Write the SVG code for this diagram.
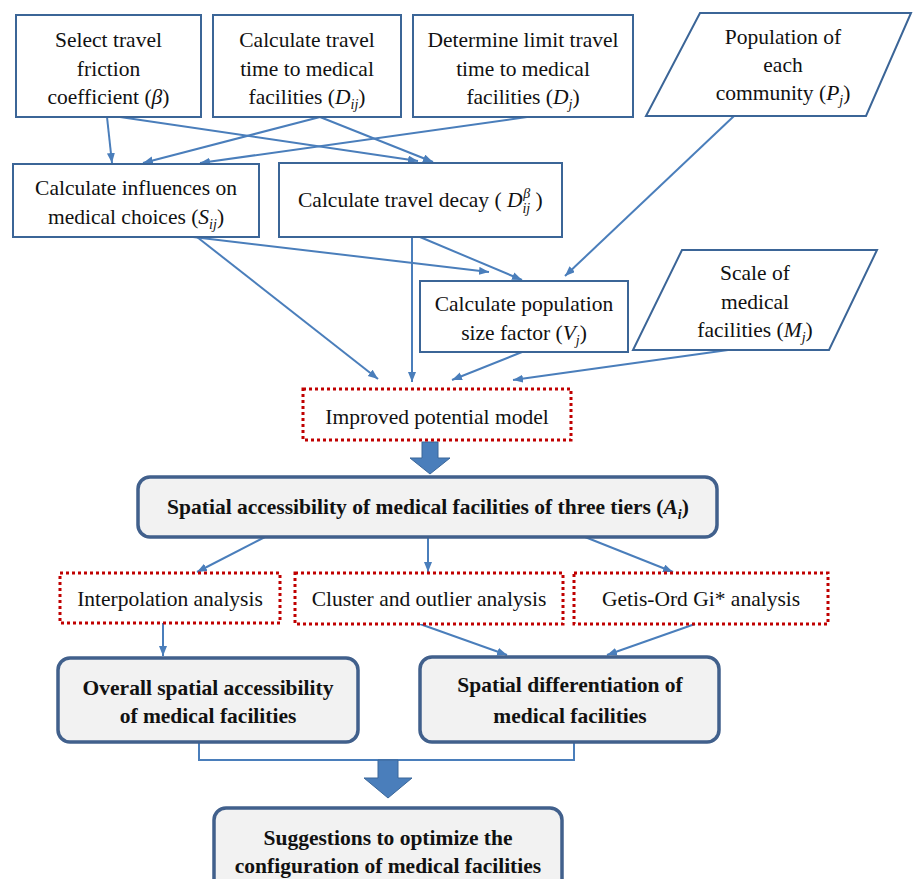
<svg xmlns="http://www.w3.org/2000/svg" width="913" height="879" viewBox="0 0 913 879">
<defs>
<style>
.box{fill:#fff;stroke:#3b6597;stroke-width:2}
.rbox{fill:#f2f2f2;stroke:#41608c;stroke-width:3.5}
.dbox{fill:#fff;stroke:#c00000;stroke-width:3;stroke-dasharray:3 3}
.edge{stroke:#4a7ebb;stroke-width:2;fill:none;marker-end:url(#ah)}
.plain{stroke:#4a7ebb;stroke-width:2;fill:none}
.fat{fill:#4a7ebb;stroke:#3a6699;stroke-width:1}
text{font-family:"Liberation Serif","Times New Roman",serif;font-size:21.5px;fill:#111;text-anchor:middle}
.b{font-weight:bold}
.i{font-style:italic}
.s{font-size:14px;font-style:italic}
</style>
<marker id="ah" markerWidth="11" markerHeight="9" refX="10" refY="4" orient="auto" markerUnits="userSpaceOnUse">
<path d="M0,0 L10,4 L0,8 z" fill="#4a7ebb"/>
</marker>
</defs>
<rect width="913" height="879" fill="#fff"/>

<g id="connectors">
<line class="edge" x1="107" y1="117" x2="112" y2="163"/>
<line class="edge" x1="120" y1="117" x2="418" y2="161"/>
<line class="edge" x1="320" y1="117" x2="143" y2="163"/>
<line class="edge" x1="320" y1="117" x2="433" y2="162"/>
<line class="edge" x1="527" y1="117" x2="200" y2="163"/>
<line class="edge" x1="193" y1="237" x2="489" y2="272"/>
<line class="edge" x1="197" y1="237" x2="378" y2="379"/>
<line class="edge" x1="412" y1="237" x2="412" y2="382"/>
<line class="edge" x1="420" y1="237" x2="522" y2="280"/>
<line class="edge" x1="734" y1="116" x2="565" y2="276"/>
<line class="edge" x1="522" y1="352" x2="452" y2="380"/>
<line class="edge" x1="728" y1="350" x2="513" y2="380"/>
<line class="edge" x1="265" y1="537" x2="197" y2="572"/>
<line class="edge" x1="428" y1="537" x2="428" y2="572"/>
<line class="edge" x1="585" y1="537" x2="673" y2="572"/>
<line class="edge" x1="163" y1="623" x2="163" y2="656"/>
<line class="edge" x1="420" y1="624" x2="507" y2="655"/>
<line class="edge" x1="695" y1="624" x2="607" y2="655"/>
<polyline class="plain" points="199,743 199,760 574,760 574,743"/>
<polygon class="fat" points="422,442 438,442 438,458 450,458 430,474 410,458 422,458"/>
<polygon class="fat" points="378,760 398,760 398,778 412,778 388,798 364,778 378,778"/>
</g>

<g id="n-friction">
<rect class="box" x="16" y="15" width="185" height="102"/>
<text x="108.5" y="47">Select travel</text>
<text x="108.5" y="75.5">friction</text>
<text x="108.5" y="104">coefficient (<tspan class="i">β</tspan>)</text>
</g>

<g id="n-traveltime">
<rect class="box" x="213" y="15" width="188" height="102"/>
<text x="307" y="47">Calculate travel</text>
<text x="307" y="75.5">time to medical</text>
<text x="307" y="104">facilities (<tspan class="i">D</tspan><tspan class="s" dy="5">ij</tspan><tspan dy="-5">)</tspan></text>
</g>

<g id="n-limit">
<rect class="box" x="413" y="15" width="220" height="102"/>
<text x="523" y="47">Determine limit travel</text>
<text x="523" y="75.5">time to medical</text>
<text x="523" y="104">facilities (<tspan class="i">D</tspan><tspan class="s" dy="5">j</tspan><tspan dy="-5">)</tspan></text>
</g>

<g id="n-population">
<polygon class="box" points="700,13 911,13 866,116 646,116"/>
<text x="783" y="44">Population of</text>
<text x="783" y="72">each</text>
<text x="783" y="100">community (<tspan class="i">P</tspan><tspan class="s" dy="5">j</tspan><tspan dy="-5">)</tspan></text>
</g>

<g id="n-influences">
<rect class="box" x="13" y="164" width="246" height="73"/>
<text x="136" y="195">Calculate influences on</text>
<text x="136" y="224">medical choices (<tspan class="i">S</tspan><tspan class="s" dy="5">ij</tspan><tspan dy="-5">)</tspan></text>
</g>

<g id="n-decay">
<rect class="box" x="279" y="163" width="283" height="74"/>
<text x="298" y="207" style="text-anchor:start">Calculate travel decay ( <tspan class="i">D</tspan><tspan class="s" dy="6">ij</tspan><tspan class="s" dx="-7" dy="-15">β</tspan><tspan dy="9"> )</tspan></text>
</g>

<g id="n-popsize">
<rect class="box" x="420" y="281" width="208" height="71"/>
<text x="524" y="311">Calculate population</text>
<text x="524" y="340">size factor (<tspan class="i">V</tspan><tspan class="s" dy="5">j</tspan><tspan dy="-5">)</tspan></text>
</g>

<g id="n-scale">
<polygon class="box" points="682,250 877,250 829,350 633,350"/>
<text x="755" y="280">Scale of</text>
<text x="755" y="309">medical</text>
<text x="755" y="337">facilities (<tspan class="i">M</tspan><tspan class="s" dy="5">j</tspan><tspan dy="-5">)</tspan></text>
</g>

<g id="n-improved">
<rect class="dbox" x="303" y="389" width="268" height="51"/>
<text x="437" y="424">Improved potential model</text>
</g>

<g id="n-spatial">
<rect class="rbox" x="138" y="477" width="579" height="60" rx="12"/>
<text class="b" x="428" y="514">Spatial accessibility of medical facilities of three tiers (<tspan class="i">A</tspan><tspan class="s" dy="5">i</tspan><tspan dy="-5">)</tspan></text>
</g>

<g id="n-interp">
<rect class="dbox" x="60" y="573" width="220" height="50"/>
<text x="170" y="606">Interpolation analysis</text>
</g>

<g id="n-cluster">
<rect class="dbox" x="295" y="573" width="268" height="51"/>
<text x="429" y="606">Cluster and outlier analysis</text>
</g>

<g id="n-getis">
<rect class="dbox" x="574" y="573" width="254" height="51"/>
<text x="701" y="606">Getis-Ord Gi* analysis</text>
</g>

<g id="n-overall">
<rect class="rbox" x="58" y="658" width="300" height="84" rx="12"/>
<text class="b" x="208" y="695">Overall spatial accessibility</text>
<text class="b" x="208" y="723">of medical facilities</text>
</g>

<g id="n-diff">
<rect class="rbox" x="420" y="657" width="299" height="85" rx="12"/>
<text class="b" x="570" y="692">Spatial differentiation of</text>
<text class="b" x="570" y="723">medical facilities</text>
</g>

<g id="n-suggest">
<rect class="rbox" x="214" y="808" width="348" height="90" rx="12"/>
<text class="b" x="388" y="845">Suggestions to optimize the</text>
<text class="b" x="388" y="873">configuration of medical facilities</text>
</g>
</svg>
